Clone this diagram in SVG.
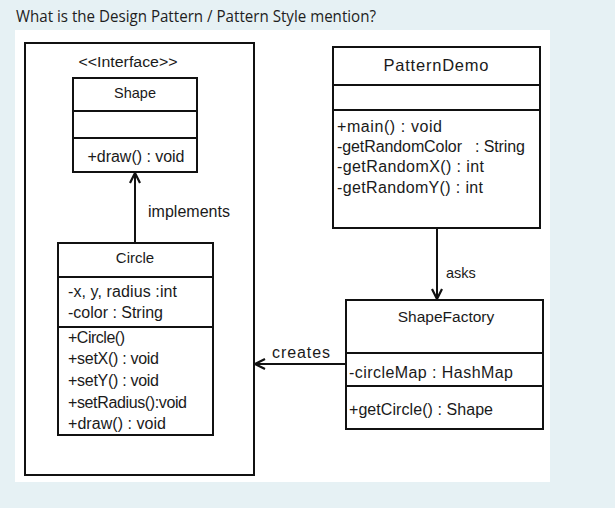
<svg xmlns="http://www.w3.org/2000/svg" width="615" height="508" viewBox="0 0 615 508">
<defs>
<style>
.t{font-family:"Liberation Sans",Arial,sans-serif;font-size:16px;fill:#1a1a1a}
.c{text-anchor:middle}
.box{fill:#fff;stroke:#111;stroke-width:2}
.ln{stroke:#111;stroke-width:2;fill:none}
</style>
<marker id="arr" viewBox="0 0 12 12" refX="11" refY="6" markerWidth="12" markerHeight="12" markerUnits="userSpaceOnUse" orient="auto">
<path d="M1,1 L11,6 L1,11" fill="none" stroke="#111" stroke-width="2.2"/>
</marker>
</defs>
<rect width="615" height="508" fill="#e6f1f4"/>
<text x="16" y="22" style="font-family:'Open Sans','Noto Sans',sans-serif;font-size:17px;fill:#1e1e1e" textLength="360" lengthAdjust="spacingAndGlyphs">What is the Design Pattern / Pattern Style mention?</text>
<rect x="15" y="30" width="535" height="452" fill="#fff"/>
<rect id="frame" x="25" y="43" width="229" height="432" class="box"/>
<g id="shape">
<text x="128" y="67" class="t c" style="font-size:14px" textLength="99" lengthAdjust="spacingAndGlyphs">&lt;&lt;Interface&gt;&gt;</text>
<rect x="73" y="78" width="124" height="94" class="box"/>
<line x1="73" y1="111" x2="197" y2="111" class="ln"/>
<line x1="73" y1="138" x2="197" y2="138" class="ln"/>
<text x="135" y="98" class="t c" style="font-size:14.5px">Shape</text>
<text x="136" y="162" class="t c" textLength="97">+draw() : void</text>
</g>
<g id="circle">
<rect x="58" y="243" width="155" height="192" class="box"/>
<line x1="58" y1="277" x2="213" y2="277" class="ln"/>
<line x1="58" y1="327" x2="213" y2="327" class="ln"/>
<text x="135" y="263" class="t c" style="font-size:15px">Circle</text>
<text x="68" y="297" class="t" textLength="109">-x, y, radius :int</text>
<text x="68" y="318" class="t" textLength="95">-color : String</text>
<text x="68" y="343" class="t" textLength="57">+Circle()</text>
<text x="68" y="364" class="t" textLength="91">+setX() : void</text>
<text x="68" y="386" class="t" textLength="91">+setY() : void</text>
<text x="68" y="408" class="t" textLength="119">+setRadius():void</text>
<text x="68" y="429" class="t" textLength="98">+draw() : void</text>
</g>
<g id="patterndemo">
<rect x="333" y="47" width="207" height="181" class="box"/>
<line x1="333" y1="85" x2="540" y2="85" class="ln"/>
<line x1="333" y1="110" x2="540" y2="110" class="ln"/>
<text x="436" y="71" class="t c" style="font-size:16.5px" textLength="105">PatternDemo</text>
<text x="337" y="132" class="t" textLength="105">+main() : void</text>
<text x="337" y="152" class="t" xml:space="preserve" textLength="188">-getRandomColor   : String</text>
<text x="337" y="172" class="t" textLength="147">-getRandomX() : int</text>
<text x="337" y="193" class="t" textLength="146">-getRandomY() : int</text>
</g>
<g id="shapefactory">
<rect x="346" y="300" width="197" height="129" class="box"/>
<line x1="346" y1="353" x2="543" y2="353" class="ln"/>
<line x1="346" y1="386" x2="543" y2="386" class="ln"/>
<text x="446" y="322" class="t c" style="font-size:15.5px">ShapeFactory</text>
<text x="349" y="378" class="t" textLength="164">-circleMap : HashMap</text>
<text x="349" y="415" class="t" textLength="144">+getCircle() : Shape</text>
</g>
<g id="connectors">
<line x1="135" y1="243" x2="135" y2="173" class="ln" marker-end="url(#arr)"/>
<text x="148" y="217" class="t" textLength="82">implements</text>
<line x1="437" y1="228" x2="437" y2="299" class="ln" marker-end="url(#arr)"/>
<text x="446" y="278" class="t" style="font-size:14.5px">asks</text>
<line x1="346" y1="364" x2="255" y2="364" class="ln" marker-end="url(#arr)"/>
<text x="272" y="358" class="t" textLength="58">creates</text>
</g>
</svg>
